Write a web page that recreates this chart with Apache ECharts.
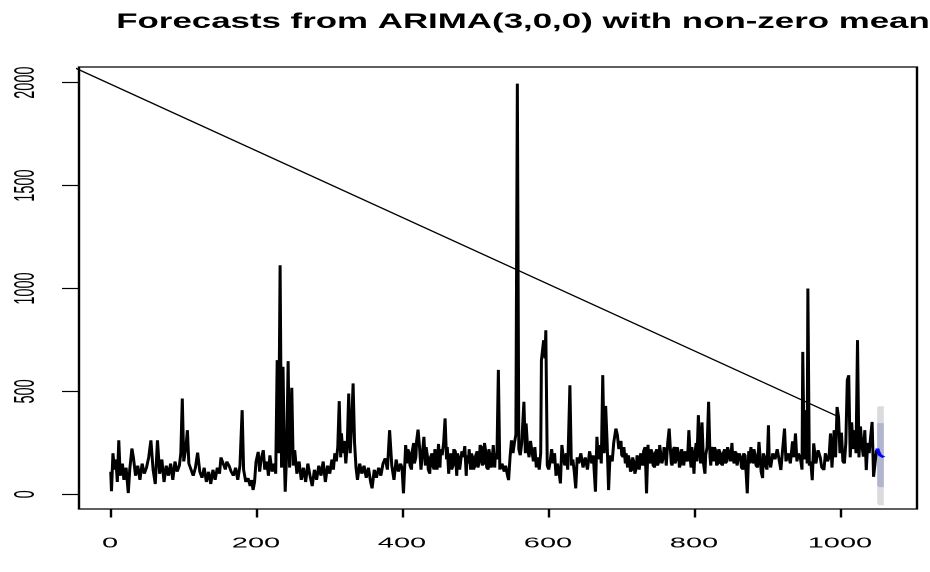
<!DOCTYPE html>
<html>
<head>
<meta charset="utf-8">
<script src="https://cdn.jsdelivr.net/npm/echarts@6/dist/echarts.min.js"></script>
<style>
html,body{margin:0;padding:0;background:#fff;overflow:hidden;width:930px;height:572px;}
#main{width:465px;height:572px;transform:scaleX(2);transform-origin:0 0;}
</style>
</head>
<body>
<div id="main"></div>
<script>
// ---- data ----
const titleText = 'Forecasts from ARIMA(3,0,0) with non-zero mean';
const xTicks = [0, 200, 400, 600, 800, 1000];
const yTicks = [0, 500, 1000, 1500, 2000];

// observed series [time, value]
const observed = [
[1,110],[2,15],[4,200],[6,120],[8,170],[10,60],[12,263],[14,90],[17,150],[19,70],[22,130],[25,6],[27,120],[30,223],[32,180],[35,90],[38,140],[41,70],[44,150],[47,100],[50,130],[53,180],[56,263],[59,120],[62,50],[65,263],[68,100],[71,170],[74,60],[77,140],[80,90],[83,150],[86,70],[89,160],[92,110],[95,140],[97,200],[99,466],[101,160],[104,230],[106,312],[108,150],[111,120],[114,90],[117,130],[120,203],[123,110],[126,80],[129,130],[132,60],[135,110],[138,50],[141,120],[144,70],[147,130],[150,100],[152,180],[155,150],[158,120],[160,160],[163,140],[166,110],[169,90],
[172,130],[175,70],[178,140],[181,409],[183,120],[186,60],[189,80],[192,40],[194,70],[196,21],[198,60],[200,158],[203,207],[205,110],[207,170],[210,215],[212,120],[215,160],[217,90],[219,190],[222,110],[225,150],[227,100],[229,652],[231,200],[233,1113],[235,130],[237,620],[239,150],[240,13],[242,200],[244,647],[246,130],[249,518],[251,140],[253,215],[256,100],[259,160],[262,70],[265,130],[268,60],[271,150],[274,90],[277,40],[280,120],[283,70],[286,140],[289,90],[292,160],[295,60],[298,140],[301,100],[304,170],[306,120],[308,200],[310,160],[312,230],[314,453],[316,180],[317,297],[319,200],[321,260],[323,150],[325,240],[327,490],[329,200],[331,340],[333,539],[335,250],[337,130],[339,70],[342,150],[345,100],[348,140],[351,80],[354,130],[357,60],
[359,29],[362,120],[365,80],[368,130],[371,90],[374,150],[377,176],[380,120],[383,312],[386,140],[389,70],[392,170],[395,110],[398,150],
[400,130],[402,5],[405,240],[407,150],[408,220],[410,200],[411,140],[413,120],[414,210],[416,250],[417,150],[419,180],[420,260],[422,315],[424,230],[426,120],[428,200],[430,280],[432,140],[433,230],[435,180],[436,120],[438,100],[439,180],[441,200],[442,140],[444,120],[445,220],[447,170],[448,120],[450,245],[452,130],[453,220],[455,190],[457,250],[459,369],[461,170],[462,230],[464,100],[465,170],[467,200],[468,120],[470,140],[471,220],[473,210],[475,90],[476,200],[478,170],[479,120],[481,120],[482,210],[484,180],[486,235],[488,90],[489,190],[491,150],[492,220],[494,120],[495,200],[497,180],[498,120],[500,140],[501,190],[503,210],[504,130],[506,160],[507,240],[509,230],[510,140],[512,150],[513,250],[515,200],[516,130],[518,120],[519,220],[521,180],[522,130],[523,140],[525,240],[527,130],[528,200],[530,170],
[532,605],[534,120],[537,150],[540,110],
[542,140],[544,100],[546,69],[548,180],[550,263],[552,200],[554,250],[556,290],[558,1995],[560,220],[562,190],[564,250],[567,450],[569,200],[570,345],[572,230],[574,180],[576,260],[578,210],[580,160],[582,230],[584,131],[586,180],[588,120],[590,200],[591,652],[594,749],[596,660],[597,797],[599,140],[601,120],[603,160],[605,220],[607,150],[609,200],[611,90],[613,150],[615,110],[617,53],[619,240],[621,180],[623,140],[625,200],[627,120],[630,530],[632,140],[634,170],[636,110],[638,29],[640,180],[642,150],[645,200],[648,130],[651,180],[654,120],[657,210],[660,150],[662,190],[665,13],[667,280],[669,170],[671,240],[673,150],[675,579],[677,200],[679,430],[681,250],[683,21],[685,190],[688,160],[690,250],[693,320],[695,290],[697,220],
[700,260],[701,190],[703,180],[704,230],[706,150],[707,200],[709,130],[710,190],[712,160],[713,110],[715,120],[716,180],[718,150],[719,100],[721,130],[722,190],[724,160],[725,120],[727,200],[728,150],[730,140],[731,210],[733,230],[735,5],[737,241],[738,170],[740,150],[741,220],[743,200],[744,140],[746,130],[747,200],[749,220],[750,140],[752,160],[753,240],[755,231],[756,150],[758,180],[759,230],[761,199],[762,140],[764,250],[766,320],[768,200],[769,150],[770,140],[771,210],[773,231],[774,150],[776,170],[777,230],[779,199],[780,130],[782,150],[783,220],[785,183],[786,140],[788,210],[789,170],[791,160],[793,312],[795,170],[796,130],[797,230],[799,160],[800,100],[801,190],[803,250],[804,160],[806,385],[808,200],[809,150],[811,350],[813,150],[815,100],[816,190],[818,230],[820,450],[822,180],[823,140],[824,231],[826,180],[827,160],[828,230],[830,210],[831,140],[833,150],[834,220],[836,200],[837,150],[839,140],[840,200],[842,220],[843,150],[845,160],[846,230],[848,200],[850,160],[852,250],[853,180],[855,150],[856,210],[858,200],[859,140],[861,140],[862,200],[864,180],[865,130],[867,120],[868,200],[870,190],[871,130],[873,5],[875,210],[876,150],[878,230],[879,170],[881,150],[882,220],[884,190],[885,140],[887,130],[889,255],[891,160],[892,110],[894,79],[895,200],[897,180],[898,140],[900,120],[902,336],[903,180],[905,130],
[908,200],[911,170],[914,220],[917,160],[919,118],[921,200],[924,320],[926,160],[929,200],[932,150],[935,258],[937,180],[939,296],[941,160],[943,200],[946,170],[948,120],[949,692],[951,170],[953,200],[954,409],[955,150],[956,1000],[958,140],[960,160],[962,69],[964,248],[967,150],[970,215],[973,180],[975,130],[978,118],[980,200],[983,160],[985,180],[987,296],[989,130],[992,312],[994,180],[996,425],[998,377],[1000,200],[1002,300],[1004,160],[1006,150],[1008,250],[1010,555],[1012,579],[1014,180],[1016,350],[1018,220],[1020,312],[1022,200],[1024,749],[1026,180],[1028,330],[1030,240],[1032,183],[1034,312],[1036,118],[1038,250],[1040,200],[1042,280],[1044,352],[1046,85],[1050,215]
];

// stray straight segment running from the upper left into the series
const strayLine = [[-60, 2091], [998, 377]];

// forecasts
const fcTime  = [1051, 1052, 1053, 1054, 1055, 1056, 1057, 1058, 1059, 1060];
const fcMean  = [223, 212, 202, 195, 190, 186, 184, 182, 181, 180];
const fcLo80  = [45, 38, 36, 35, 35, 35, 35, 35, 35, 35];
const fcHi80  = [345, 345, 346, 346, 346, 346, 346, 346, 346, 346];
const fcLo95  = [-40, -48, -52, -53, -53, -53, -53, -53, -53, -53];
const fcHi95  = [420, 426, 428, 428, 428, 428, 428, 428, 428, 428];

// ---- chart ----
const chart = echarts.init(document.getElementById('main'), null, {devicePixelRatio: 2});
const font = '"Liberation Sans", Arial, Helvetica, sans-serif';

function bandSeries(lo, hi, color) {
  return {
    type: 'custom',
    clip: true,
    silent: true,
    z: 1,
    data: [0],
    renderItem: function (params, api) {
      const top = fcTime.map((t, i) => api.coord([t, hi[i]]));
      const bot = fcTime.map((t, i) => api.coord([t, lo[i]])).reverse();
      return {type: 'polygon', shape: {points: top.concat(bot)}, style: {fill: color}};
    }
  };
}

const plain = v => String(v);

chart.setOption({
  animation: false,
  backgroundColor: '#fff',
  graphic: [{
    type: 'text', x: 261.5, y: 22, scaleX: 0.83, scaleY: 1,
    style: {text: titleText, font: 'bold 21px ' + font, fill: '#000', textAlign: 'center', textVerticalAlign: 'middle'}
  }],
  grid: {left: 39.5, right: 6.5, top: 67, bottom: 63, show: true, borderColor: '#000', borderWidth: 1.2, backgroundColor: 'transparent'},
  xAxis: {
    type: 'value', min: -42.5, max: 1105.5,
    axisLine: {show: false, onZero: false},
    splitLine: {show: false},
    axisTick: {show: true, inside: false, length: 8.5, customValues: xTicks, lineStyle: {color: '#000', width: 1.2}},
    axisLabel: {customValues: xTicks, formatter: plain, margin: 27, color: '#000', fontSize: 14.5, fontFamily: font}
  },
  yAxis: {
    type: 'value', min: -71, max: 2076,
    axisLine: {show: false, onZero: false},
    splitLine: {show: false},
    axisTick: {show: true, inside: false, length: 8.5, customValues: yTicks, lineStyle: {color: '#000', width: 1.2}},
    axisLabel: {customValues: yTicks, formatter: plain, rotate: 90, margin: 19, color: '#000', fontSize: 14.5, fontFamily: font}
  },
  series: [
    bandSeries(fcLo95, fcHi95, '#DBDBDF'),
    bandSeries(fcLo80, fcHi80, '#B1B5CE'),
    {type: 'line', data: observed, showSymbol: false, symbol: 'none', z: 3,
     lineStyle: {color: '#000', width: 1.5}, silent: true},
    {type: 'line', data: strayLine, showSymbol: false, symbol: 'none', z: 3, clip: true,
     lineStyle: {color: '#000', width: 1.1}, silent: true},
    {type: 'line', data: fcTime.map((t, i) => [t, fcMean[i]]), showSymbol: false, symbol: 'none', z: 4,
     lineStyle: {color: '#0000FF', width: 2}, silent: true}
  ]
});
</script>
</body>
</html>
